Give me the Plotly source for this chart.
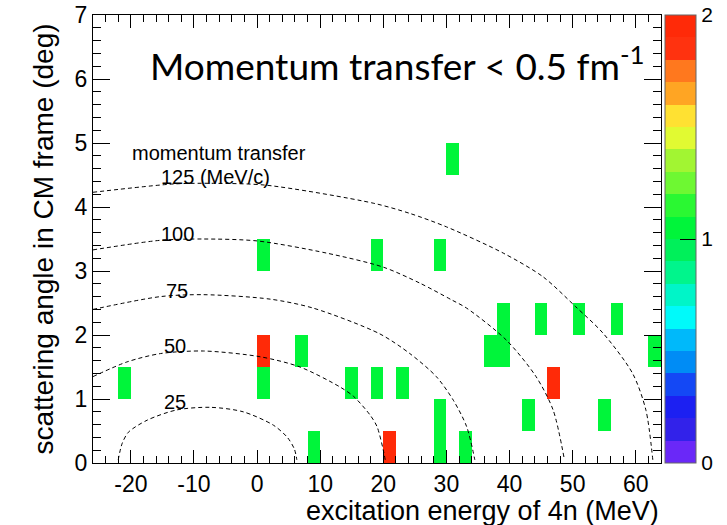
import plotly.graph_objects as go

# ---- histogram contents: lower edges of occupied bins and their counts ----
# excitation energy of 4n (MeV), 2 MeV bins
e_low = [-22, 0, 0, 0, 6, 8, 14, 18, 18, 20, 22, 28, 28, 28, 30, 32,
         36, 38, 38, 42, 44, 46, 50, 54, 56, 62]
# CM scattering angle (deg), 0.5 deg bins
ang_low = [1.0, 3.0, 1.5, 1.0, 1.5, 0.0, 1.0, 3.0, 1.0, 0.0, 1.0, 3.0, 0.5, 0.0, 4.5, 0.0,
           1.5, 1.5, 2.0, 0.5, 2.0, 1.0, 2.0, 0.5, 2.0, 1.5]
counts = [1, 1, 2, 1, 1, 1, 1, 1, 1, 2, 1, 1, 1, 1, 1, 1,
          1, 1, 1, 1, 1, 2, 1, 1, 1, 1]

# binning of the 2D histogram
E_MIN, E_MAX, E_W = -26, 64, 2
A_MIN, A_MAX, A_W = 0.0, 7.0, 0.5

# axis tick labels
x_tickvals = [-20, -10, 0, 10, 20, 30, 40, 50, 60]
x_ticktext = ["-20", "-10", "0", "10", "20", "30", "40", "50", "60"]
z_tickvals = [0, 1, 2]
z_minor = [0.2, 0.4, 0.6, 0.8, 1.2, 1.4, 1.6, 1.8]

# ---- constant momentum-transfer lines (MeV/c): (E, theta) points ----
q_labels = ["25", "50", "75", "100", "125 (MeV/c)"]
q25_e = [-22.0, -21.4, -20.4, -17.4, -12.7, -7.4, -2.2, 2.6, 4.8, 5.9, 6.3]
q25_t = [0.05, 0.30, 0.48, 0.67, 0.83, 0.87, 0.80, 0.59, 0.40, 0.22, 0.05]
q50_e = [-26.0, -20.6, -15.3, -8.5, 0.5, 6.8, 13.1, 15.3, 17.9, 19.0, 20.0, 20.3]
q50_t = [1.35, 1.58, 1.71, 1.75, 1.66, 1.50, 1.19, 1.04, 0.75, 0.57, 0.20, 0.05]
q75_e = [-26.0, -15.3, -8.5, 2.1, 8.9, 19.4, 24.2, 28.4, 31.1, 33.2, 34.5]
q75_t = [2.40, 2.60, 2.63, 2.56, 2.42, 2.02, 1.71, 1.35, 0.98, 0.57, 0.05]
q100_e = [-26.0, -15.3, -8.5, 0.0, 11.0, 20.0, 25.8, 30.8, 33.2, 39.5, 44.2, 46.9, 48.7]
q100_t = [3.33, 3.48, 3.50, 3.47, 3.28, 3.06, 2.81, 2.55, 2.42, 1.92, 1.35, 0.83, 0.05]
q125_e = [-26.0, -13.2, -6.9, 1.5, 18.4, 24.2, 30.0, 39.0, 45.3, 50.5, 54.8, 59.5, 61.6, 62.7]
q125_t = [4.23, 4.36, 4.37, 4.34, 4.06, 3.90, 3.69, 3.28, 2.91, 2.44, 2.03, 1.40, 0.83, 0.05]

# label anchor positions (E, theta) for the q lines
q_label_e = [-15.0, -15.0, -14.8, -15.6, -15.6]
q_label_t = [0.96, 1.83, 2.69, 3.58, 4.47]

# ---- build the z grid from the bin list ----
nx = int(round((E_MAX - E_MIN) / E_W))
ny = int(round((A_MAX - A_MIN) / A_W))
x_centers = [E_MIN + E_W * (i + 0.5) for i in range(nx)]
y_centers = [A_MIN + A_W * (j + 0.5) for j in range(ny)]
z = [[None] * nx for _ in range(ny)]
for e, a, c in zip(e_low, ang_low, counts):
    i = int(round((e - E_MIN) / E_W))
    j = int(round((a - A_MIN) / A_W))
    z[j][i] = c

# 20-level rainbow palette (low -> high)
palette = ["#6a28f8", "#3222ea", "#1c20f2", "#1448f5", "#008cf5",
           "#00b9fa", "#00fafa", "#00f5c8", "#00f58c", "#00f05a",
           "#00f53a", "#2af832", "#6ef832", "#a2f532", "#e1fa32",
           "#ffe132", "#ffa523", "#ff781e", "#ff320f", "#ff2a08"]
n = len(palette)
eps = 1e-4
cscale = []
for k, col in enumerate(palette):
    lo = 0.0 if k == 0 else k / n - eps
    hi = 1.0 if k == n - 1 else (k + 1) / n - eps
    cscale.append([lo, col])
    cscale.append([hi, col])

# pixel geometry of the frame and the colour bar
W, H = 727, 525
M_L, M_R, M_T, M_B = 93, 66, 15, 62
PLOT_W = W - M_L - M_R
CB_X = 1.007
CB_THICK = 31
CB_TICK = 16

fig = go.Figure()

fig.add_trace(go.Heatmap(
    x=x_centers, y=y_centers, z=z,
    zmin=0, zmax=2, colorscale=cscale,
    hoverongaps=False,
    colorbar=dict(
        x=CB_X, xanchor="left", xpad=0,
        y=0.5, yanchor="middle", len=1.0, lenmode="fraction", ypad=0,
        thickness=CB_THICK, thicknessmode="pixels",
        outlinewidth=1, outlinecolor="#666666",
        tickmode="array", tickvals=z_tickvals,
        ticktext=[str(v) for v in z_tickvals],
        ticks="inside", ticklen=CB_TICK, tickwidth=1, tickcolor="black",
        tickfont=dict(family="Liberation Sans, Arial, sans-serif", size=21, color="black"),
    ),
))

line_style = dict(color="black", width=1, dash="4px,3px", shape="spline", smoothing=0.8)
for xs, ys in [(q25_e, q25_t), (q50_e, q50_t), (q75_e, q75_t),
               (q100_e, q100_t), (q125_e, q125_t)]:
    fig.add_trace(go.Scatter(x=xs, y=ys, mode="lines", line=line_style,
                             showlegend=False, hoverinfo="skip"))

# secondary ticks on the colour bar (inside, from its right edge)
cb_right = CB_X + CB_THICK / PLOT_W
cb_tick_left = cb_right - CB_TICK / PLOT_W
shapes = []
for v in z_minor:
    shapes.append(dict(type="line", xref="paper", yref="paper",
                       x0=cb_tick_left, x1=cb_right, y0=v / 2, y1=v / 2,
                       line=dict(color="black", width=1)))

label_font = dict(family="Liberation Sans, Arial, sans-serif", size=20, color="black")
annotations = []
for txt, ex, th in zip(q_labels, q_label_e, q_label_t):
    annotations.append(dict(x=ex, y=th, xref="x", yref="y", text=txt,
                            showarrow=False, xanchor="left", yanchor="middle",
                            font=label_font))
annotations.append(dict(x=-20.1, y=4.84, xref="x", yref="y", text="momentum transfer",
                        showarrow=False, xanchor="left", yanchor="middle", font=label_font))
annotations.append(dict(x=0.097, y=0.893, xref="paper", yref="paper",
                        text="Momentum transfer &lt; 0.5 fm<sup>-1</sup>",
                        showarrow=False, xanchor="left", yanchor="middle",
                        font=dict(family="Lato, sans-serif", size=37, color="black")))
annotations.append(dict(x=1.0, y=-0.108, xref="paper", yref="paper",
                        text="excitation energy of 4n (MeV)",
                        showarrow=False, xanchor="right", yanchor="middle",
                        font=dict(family="Liberation Sans, Arial, sans-serif", size=27, color="black")))

tick_font = dict(family="Liberation Sans, Arial, sans-serif", size=23, color="black")
fig.update_layout(
    width=W, height=H,
    margin=dict(l=M_L, r=M_R, t=M_T, b=M_B, autoexpand=False),
    paper_bgcolor="white", plot_bgcolor="white",
    showlegend=False,
    annotations=annotations,
    shapes=shapes,
    xaxis=dict(
        range=[E_MIN, E_MAX], tickmode="array", tickvals=x_tickvals, ticktext=x_ticktext,
        ticks="inside", ticklen=13, tickwidth=1, tickcolor="black",
        minor=dict(dtick=2, tick0=0, ticks="inside", ticklen=7, tickcolor="black"),
        showline=True, linecolor="black", linewidth=1, mirror="ticks",
        showgrid=False, zeroline=False, tickfont=tick_font,
    ),
    yaxis=dict(
        range=[A_MIN, A_MAX], tickmode="linear", tick0=0, dtick=1,
        ticks="inside", ticklen=17, tickwidth=1, tickcolor="black",
        minor=dict(dtick=0.2, tick0=0, ticks="inside", ticklen=8, tickcolor="black"),
        showline=True, linecolor="black", linewidth=1, mirror="ticks",
        showgrid=False, zeroline=False, tickfont=tick_font,
        title=dict(text="scattering angle in CM frame (deg)", standoff=12,
                   font=dict(family="Liberation Sans, Arial, sans-serif", size=28, color="black")),
    ),
)

fig.write_html("out.html")
